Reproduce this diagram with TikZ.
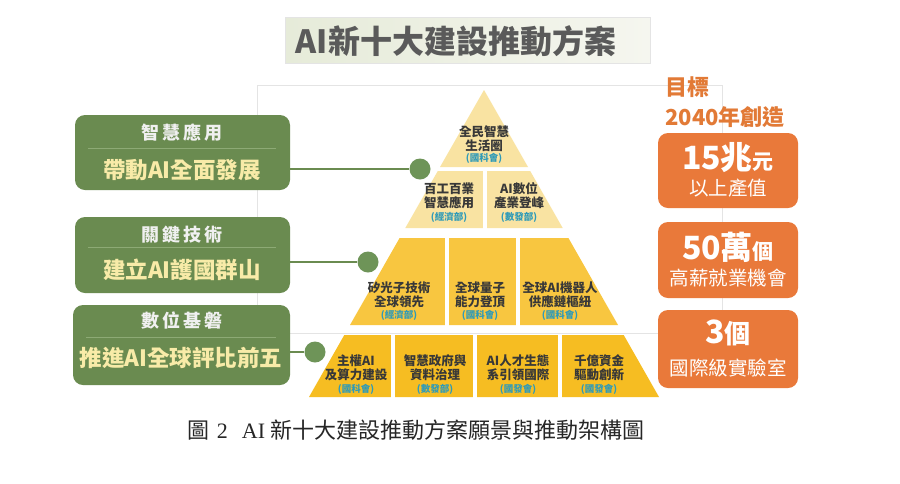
\documentclass[tikz,border=0pt]{standalone}
\usepackage{fontspec}
\newfontfamily\cjk{Noto Sans CJK TC}
\newfontfamily\tnr{Liberation Serif}
\definecolor{gboxc}{HTML}{6A8B50}
\definecolor{glinec}{HTML}{8DAA75}
\definecolor{dotc}{HTML}{6E9458}
\definecolor{creamc}{HTML}{F8EBA8}
\definecolor{palec}{HTML}{F9E3A2}
\definecolor{goldc}{HTML}{F8C640}
\definecolor{gold2c}{HTML}{F6BD22}
\definecolor{minc}{HTML}{2E9AB8}
\definecolor{orngc}{HTML}{E9793A}
\definecolor{otextc}{HTML}{E27A36}
\definecolor{ttextc}{HTML}{5A5A5A}
\definecolor{framec}{HTML}{E4E4E4}
\definecolor{cellc}{HTML}{383838}
\definecolor{tboxl}{HTML}{E6EBD9}
\definecolor{tboxr}{HTML}{F5F6EF}
\begin{document}
\begin{tikzpicture}[x=1pt,y=-1pt,
  gbox/.style={fill=gboxc,rounded corners=10pt,inner sep=0pt},
  obox/.style={fill=orngc,rounded corners=10pt,inner sep=0pt,minimum width=140pt},
  toplab/.style={text=white!94!black,font=\cjk\bfseries\fontsize{18}{20}\selectfont,inner sep=0pt},
  botlab/.style={text=creamc,font=\cjk\bfseries\fontsize{22.5}{24}\selectfont,inner sep=0pt},
  divline/.style={draw=glinec,line width=1pt},
  conn/.style={draw=gboxc,line width=2pt},
  dot/.style={circle,fill=dotc,minimum size=21pt,inner sep=0pt},
  cell/.style={text=cellc,font=\cjk\bfseries\fontsize{12.5}{14}\selectfont,align=center,inner sep=0pt},
  mins/.style={text=minc,font=\cjk\bfseries\fontsize{9.5}{10}\selectfont,inner sep=0pt},
  gap/.style={draw=white,line width=4pt},
  big/.style={text=white,font=\cjk\bfseries\fontsize{32}{34}\selectfont,inner sep=0pt},
  small/.style={text=white,font=\cjk\fontsize{19.5}{21}\selectfont,inner sep=0pt},
  goal/.style={text=otextc,font=\cjk\bfseries\fontsize{22}{24}\selectfont,inner sep=0pt,anchor=west}
]
\useasboundingbox (0,0) rectangle (900,483);
\fill[white] (0,0) rectangle (900,483);

% faint frame
\draw[framec,line width=1pt] (257,85) rectangle (722,333);

% title
\shade[left color=tboxl,right color=tboxr,draw=framec] (285,17) rectangle (650,63);
\node[text=ttextc,font=\cjk\bfseries\fontsize{32}{34}\selectfont,inner sep=0pt] (title) at (456,41) {AI新十大建設推動方案};

% pyramid
\fill[palec] (484,90) -- (528,167) -- (440,167) -- cycle;
\fill[palec] (437.8,171) -- (530.2,171) -- (562.7,228) -- (405.3,228) -- cycle;
\draw[gap] (485,170) -- (485,229);
\fill[goldc] (399.6,238) -- (568.4,238) -- (618,325) -- (350,325) -- cycle;
\draw[gap] (447,237) -- (447,326);
\draw[gap] (518,237) -- (518,326);
\fill[gold2c] (344.3,335) -- (623.7,335) -- (659,397) -- (309,397) -- cycle;
\draw[gap] (393,334) -- (393,398);
\draw[gap] (475,334) -- (475,398);
\draw[gap] (560,334) -- (560,398);

% pyramid texts
\node[cell] (p1) at (484,138.5) {全民智慧\\生活圈};
\node[mins] (p1m) at (484,158) {(國科會)};
\node[cell] (p2a) at (449,196) {百工百業\\智慧應用};
\node[mins] (p2am) at (449,217) {(經濟部)};
\node[cell] (p2b) at (519,196) {AI數位\\產業登峰};
\node[mins] (p2bm) at (519,217) {(數發部)};
\node[cell] (p3a) at (399,294.5) {矽光子技術\\全球領先};
\node[mins] (p3am) at (399,315) {(經濟部)};
\node[cell] (p3b) at (480,294.5) {全球量子\\能力登頂};
\node[mins] (p3bm) at (480,315) {(國科會)};
\node[cell] (p3c) at (560,294.5) {全球AI機器人\\供應鏈樞紐};
\node[mins] (p3cm) at (560,315) {(國科會)};
\node[cell] (p4a) at (356,367.5) {主權AI\\及算力建設};
\node[mins] (p4am) at (356,389) {(國科會)};
\node[cell] (p4b) at (435,367.5) {智慧政府與\\資料治理};
\node[mins] (p4bm) at (435,389) {(數發部)};
\node[cell] (p4c) at (518,367.5) {AI人才生態\\系引領國際};
\node[mins] (p4cm) at (518,389) {(國發會)};
\node[cell] (p4d) at (599,367.5) {千億資金\\驅動創新};
\node[mins] (p4dm) at (599,389) {(國發會)};

% green boxes
\node[gbox,minimum width=215pt,minimum height=75pt] (g1) at (182.5,152.5) {};
\node[gbox,minimum width=215pt,minimum height=76pt] (g2) at (182.5,255) {};
\node[gbox,minimum width=217pt,minimum height=80pt] (g3) at (181.5,345) {};
\node[toplab] (g1t) at (182,133) {智\hspace{3pt}慧\hspace{3pt}應\hspace{3pt}用};
\draw[divline] (88,148) -- (276,148);
\node[botlab] (g1b) at (182,170) {帶動AI全面發展};
\node[toplab] (g2t) at (182,235) {關\hspace{3pt}鍵\hspace{3pt}技\hspace{3pt}術};
\draw[divline] (88,247) -- (276,247);
\node[botlab] (g2b) at (182,270) {建立AI護國群山};
\node[toplab] (g3t) at (182,321) {數\hspace{3pt}位\hspace{3pt}基\hspace{3pt}磐};
\draw[divline] (86,337) -- (276,337);
\node[botlab] (g3b) at (181,358) {推進AI全球評比前五};

% connectors
\node[dot] (c1) at (420,169) {};
\node[dot] (c2) at (368,262) {};
\node[dot] (c3) at (315,352) {};
\draw[conn] (g1.east |- c1) -- (c1);
\draw[conn] (g2.east |- c2) -- (c2);
\draw[conn] (g3.east |- c3) -- (c3);

% goals
\node[goal] (goal1) at (665,87) {目標};
\node[goal] (goal2) at (665,117) {2040年創造};
\node[obox,minimum height=75pt] (o1) at (728,170.5) {};
\node[obox,minimum height=76pt] (o2) at (728,260) {};
\node[obox,minimum height=78pt] (o3) at (728,349) {};
\node[big] (o1a) at (728,158) {15兆{\fontsize{21}{22}\selectfont 元}};
\node[small] (o1b) at (728,188) {以上產值};
\node[big] (o2a) at (728,247) {50萬{\fontsize{21}{22}\selectfont 個}};
\node[small] (o2b) at (728,278) {高薪就業機會};
\node[big] (o3a) at (728,333) {3{\fontsize{26}{28}\selectfont 個}};
\node[small] (o3b) at (728,368) {國際級實驗室};

% caption
\node[text=black!85,font=\cjk\fontsize{22}{24}\selectfont,inner sep=0pt] (cap) at (416,430)
  {圖\hspace{7pt}{\tnr 2}\hspace{14pt}{\tnr AI}\hspace{5pt}新十大建設推動方案願景與推動架構圖};
\end{tikzpicture}
\end{document}
